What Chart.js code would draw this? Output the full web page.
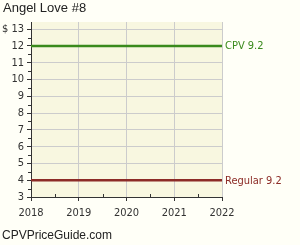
<!DOCTYPE html>
<html>
<head>
<meta charset="utf-8">
<script src="https://cdn.jsdelivr.net/npm/chart.js@4"></script>
<style>
  html, body { margin: 0; padding: 0; background: #fffff7; }
  #wrap { position: relative; width: 300px; height: 245px; overflow: hidden; }
  #title { position: absolute; left: 3px; top: 0px; font: 13px "Liberation Sans", Arial, sans-serif; line-height: 16px; color: #222; }
  #footer { position: absolute; left: 2px; top: 228px; font: 12px "Liberation Sans", Arial, sans-serif; line-height: 14px; color: #222; }
</style>
</head>
<body>
<div id="wrap">
  <canvas id="myChart" width="300" height="245"></canvas>
  <div id="title">Angel Love #8</div>
  <div id="footer">CPVPriceGuide.com</div>
</div>
<script>
// chart data
var years = [2018, 2019, 2020, 2021, 2022];
var cpvValues = [12, 12, 12, 12, 12];
var regularValues = [4, 4, 4, 4, 4];
var seriesNames = ["CPV 9.2", "Regular 9.2"];
var seriesColors = ["#3a8a1c", "#8c2b26"];
var yTicks = [3, 4, 5, 6, 7, 8, 9, 10, 11, 12, 13];

var labelFont = '11px "DejaVu Sans Condensed", "DejaVu Sans", sans-serif';

function toPoints(vals) {
  return years.map(function (y, i) { return { x: y, y: vals[i] }; });
}

// plot background
var plotBg = {
  id: "plotBg",
  beforeDraw: function (chart) {
    var a = chart.chartArea;
    var ctx = chart.ctx;
    ctx.save();
    ctx.fillStyle = "#f8f7e0";
    ctx.fillRect(a.left, a.top, a.right - a.left, a.bottom - a.top);
    ctx.restore();
  }
};

// half-step minor ticks and end labels
var extras = {
  id: "extras",
  afterDraw: function (chart) {
    var ctx = chart.ctx;
    var xs = chart.scales.x, ys = chart.scales.y;
    var a = chart.chartArea;
    ctx.save();
    ctx.strokeStyle = "#333";
    ctx.lineWidth = 1;
    ctx.beginPath();
    for (var i = 0; i < years.length - 1; i++) {
      var px = Math.round(xs.getPixelForValue(years[i] + 0.5)) + 0.5;
      ctx.moveTo(px, a.bottom);
      ctx.lineTo(px, a.bottom - 3);
    }
    for (var j = 0; j < yTicks.length - 1; j++) {
      var py = Math.round(ys.getPixelForValue(yTicks[j] + 0.5)) + 0.5;
      ctx.moveTo(a.left, py);
      ctx.lineTo(a.left - 3, py);
    }
    ctx.stroke();

    ctx.font = labelFont;
    ctx.textBaseline = "middle";
    ctx.textAlign = "left";
    chart.data.datasets.forEach(function (ds, k) {
      var meta = chart.getDatasetMeta(k);
      var last = meta.data[meta.data.length - 1];
      ctx.fillStyle = seriesColors[k];
      ctx.fillText(seriesNames[k], last.x + 3, last.y + 0.5);
    });
    ctx.restore();
  }
};

new Chart(document.getElementById("myChart").getContext("2d"), {
  type: "line",
  data: {
    datasets: [
      { label: seriesNames[0], data: toPoints(cpvValues), borderColor: seriesColors[0], borderWidth: 2.5, pointRadius: 0, tension: 0 },
      { label: seriesNames[1], data: toPoints(regularValues), borderColor: seriesColors[1], borderWidth: 2.5, pointRadius: 0, tension: 0 }
    ]
  },
  options: {
    responsive: false,
    animation: false,
    devicePixelRatio: 1,
    layout: { padding: { left: 0, top: 22, right: 78, bottom: 0 } },
    plugins: { legend: { display: false }, tooltip: { enabled: false } },
    scales: {
      x: {
        type: "linear",
        min: years[0],
        max: years[years.length - 1],
        afterBuildTicks: function (scale) {
          scale.ticks = years.map(function (v) { return { value: v }; });
        },
        afterFit: function (scale) { scale.height = 48; },
        grid: { color: "#cccccc", tickColor: "#333", tickLength: 4, drawOnChartArea: true },
        border: { color: "#333", width: 1 },
        ticks: { font: { family: "DejaVu Sans Condensed", size: 11 }, color: "#333", padding: 6, maxRotation: 0,
          callback: function (v) { return String(v); } }
      },
      y: {
        type: "linear",
        min: yTicks[0],
        max: 13.43,
        afterBuildTicks: function (scale) {
          scale.ticks = yTicks.map(function (v) { return { value: v }; });
        },
        afterFit: function (scale) { scale.width = 31; },
        grid: { color: "#cccccc", tickColor: "#333", tickLength: 4 },
        border: { color: "#333", width: 1 },
        ticks: { font: { family: "DejaVu Sans Condensed", size: 11 }, color: "#333", padding: 3,
          callback: function (v) { return v === 13 ? "$ " + v : String(v); } }
      }
    }
  },
  plugins: [plotBg, extras]
});
</script>
</body>
</html>
